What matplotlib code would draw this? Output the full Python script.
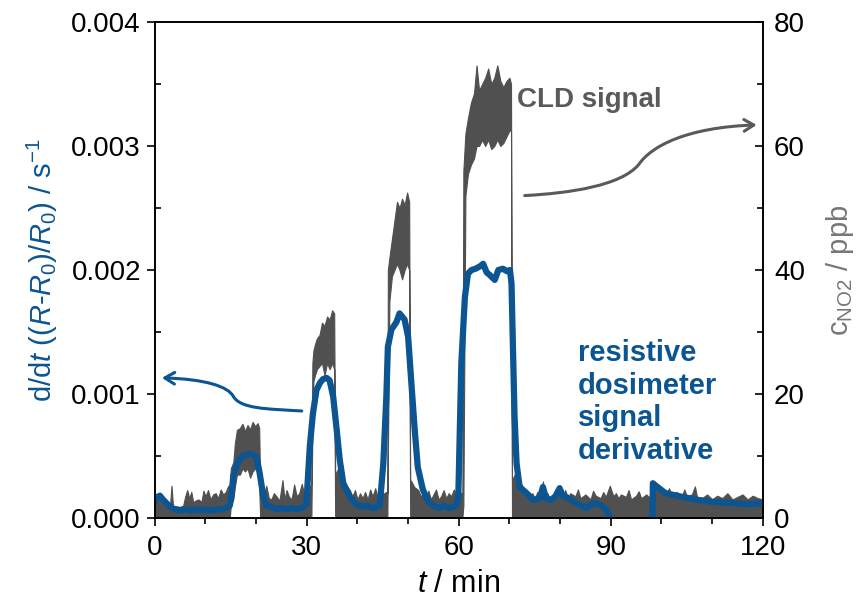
import numpy as np
import matplotlib.pyplot as plt
from matplotlib.path import Path
from matplotlib.patches import FancyArrowPatch
from matplotlib.ticker import MultipleLocator, FormatStrFormatter

plt.rcParams['font.family'] = 'Liberation Sans'
plt.rcParams['mathtext.fontset'] = 'custom'
plt.rcParams['mathtext.rm'] = 'Liberation Sans'
plt.rcParams['mathtext.it'] = 'Liberation Sans:italic'
plt.rcParams['mathtext.bf'] = 'Liberation Sans:bold'

BLUE = '#0b5592'
GRAY = '#505050'

#------------------------------------------------------------------------------
# CLD signal (ppb), read as lower / upper envelope of the noisy trace
cld_t = [0, 0.5, 1.0, 1.5, 2.0, 2.5, 3.0, 3.3, 3.6, 4.0, 5.0, 5.6, 6.0, 6.4,
         6.8, 7.2, 7.6, 8.0, 8.6, 9.2, 9.6, 10.0, 10.5, 11.0, 11.5, 12.0,
         12.5, 13.0, 13.5, 14.0, 14.5,
         14.8, 15.0, 15.5, 15.8, 16.2, 16.8, 17.3, 17.8, 18.3, 18.8, 19.3,
         19.8, 20.3, 20.6, 20.8,
         21.0, 21.5, 22.0, 22.5, 23.0, 23.5, 24.0, 24.6, 25.2, 25.6, 26.0,
         26.5, 27.0, 27.5, 28.0, 28.5, 29.0, 29.5, 30.0, 30.5, 30.9,
         31.1, 31.3, 31.6, 32.0, 32.5, 33.0, 33.5, 34.0, 34.5, 35.0, 35.4,
         35.6, 36.2, 36.8, 37.4, 38.0, 38.5, 39.0, 39.5, 40.0, 40.5, 41.0,
         41.5, 42.0, 42.5, 43.0, 43.5, 44.0, 44.5, 45.0, 45.6,
         45.9, 46.0, 46.3, 46.8, 47.3, 47.8, 48.3, 48.8, 49.3, 49.8, 50.2,
         50.4,
         50.6, 51.2, 52.0, 52.5, 53.0, 53.5, 54.0, 54.5, 55.0, 55.5, 56.0,
         56.5, 57.0, 57.5, 58.0, 58.5, 59.0, 59.5, 60.0, 60.5,
         60.7, 60.9, 61.3, 61.8, 62.4, 63.0, 63.5, 64.0, 64.6, 65.2, 65.8,
         66.4, 67.0, 67.6, 68.2, 68.8, 69.4, 70.0, 70.3, 70.5,
         71.0, 71.5, 72.0, 72.5, 73.0, 73.5, 74.0, 74.5, 75.0, 75.5, 76.0,
         76.6, 77.0, 77.5, 78.0, 78.5, 79.0, 79.9, 80.5, 81.0, 81.5, 82.0,
         83.0, 83.5, 84.0, 85.0, 86.0, 86.5, 87.0, 88.0, 88.5, 89.0, 89.8,
         90.5, 91.0, 91.5, 92.0, 93.0, 93.5, 94.0, 95.0, 95.5, 96.0, 97.0,
         97.5, 98.2, 98.3, 99.0, 100.0, 101.0, 101.5, 102.0, 103.0, 104.0,
         104.5, 105.0, 106.0, 106.6, 107.0, 108.0, 109.0, 110.0, 111.0,
         112.0, 113.0, 114.0, 115.0, 116.0, 117.0, 118.0, 119.0, 120.0]
cld_high = [3.5, 3.8, 3.2, 2.8, 2.5, 2.2, 2.0, 5.2, 1.8, 1.9, 1.8, 2.0, 3.5,
            4.5, 3.2, 4.2, 2.5, 2.8, 3.0, 2.6, 4.4, 3.5, 4.5, 3.0, 3.8, 4.0,
            3.2, 4.6, 3.8, 4.2, 5.2,
            5.0, 8.0, 9.0, 12.0, 14.2, 14.5, 15.2, 14.0, 15.0, 14.3, 15.5,
            14.8, 15.3, 14.5, 5.0,
            4.5, 3.5, 5.2, 3.2, 3.0, 4.0, 3.5, 2.8, 6.1, 3.0, 4.5, 3.4, 3.0,
            5.4, 3.5, 4.0, 5.5, 3.8, 4.5, 5.0, 5.5,
            25.0, 27.0, 28.0, 29.0, 29.5, 31.5, 31.0, 32.5, 32.0, 33.5, 33.0,
            7.0, 8.0, 7.0, 6.0, 5.0, 4.5, 3.5, 4.5, 3.0, 4.0, 3.2, 4.2, 3.0,
            4.6, 3.5, 4.8, 3.2, 4.5, 3.8, 4.2,
            4.0, 40.0, 42.0, 45.0, 48.0, 51.0, 50.0, 51.5, 50.5, 52.5, 51.0,
            6.0,
            6.0, 5.0, 4.5, 3.5, 4.0, 3.2, 4.4, 3.0, 3.8, 4.6, 3.0, 3.5, 4.5,
            3.2, 4.0, 3.5, 4.6, 3.8, 4.2, 4.0,
            4.0, 56.0, 62.0, 64.5, 67.0, 68.5, 73.0, 69.0, 70.0, 71.0, 72.5,
            70.0, 71.0, 73.0, 70.5, 69.5, 70.5, 71.0, 70.0, 6.0,
            7.0, 6.5, 6.0, 5.2, 4.5, 4.0, 3.5, 4.0, 3.2, 4.2, 3.5, 5.9, 3.6,
            4.0, 3.0, 3.8, 3.4, 5.3, 3.5, 4.5, 3.2, 4.0, 3.5, 4.6, 3.2, 3.8,
            3.0, 4.4, 3.6, 3.2, 4.2, 3.4, 5.2, 3.5, 4.0, 3.2, 3.8, 3.4, 4.5,
            3.0, 3.6, 4.3, 3.2, 3.8, 3.4, 3.6, 5.8, 5.0, 4.4, 4.0, 4.8, 3.6,
            4.2, 3.4, 4.6, 3.5, 3.8, 5.1, 3.4, 3.2, 3.8, 3.0, 3.6, 3.2, 4.0,
            3.0, 3.4, 3.8, 3.0, 3.6, 3.2, 3.0]
# lower envelope: zero on the baseline, raised only inside the four pulses
peak1_low = [0.0, 2.0, 3.0, 5.0, 7.0, 7.0, 8.0, 7.5, 8.0, 6.5, 7.5, 8.0,
             7.5, 5.0, 0.0]
peak2_low = [14.0, 22.0, 23.0, 24.0, 24.5, 25.0, 23.0, 25.0, 24.0, 25.0,
             24.0]
peak3_low = [0.0, 10.0, 35.0, 39.0, 40.0, 41.0, 40.0, 38.5, 40.0, 41.0,
             40.0, 0.0]
peak4_low = [0.0, 2.0, 52.0, 55.5, 57.0, 58.0, 60.0, 60.0, 61.0, 60.0,
             61.0, 59.5, 60.0, 61.0, 60.0, 60.5, 61.5, 62.5, 62.5, 0.0]
cld_low = ([0.0] * 31 + peak1_low + [0.0] * 21 + peak2_low + [0.0] * 20 +
           peak3_low + [0.0] * 20 + peak4_low)
cld_low += [0.0] * (len(cld_t) - len(cld_low))

# resistive dosimeter signal derivative (s^-1)
dos_t = [0, 0.5, 1.0, 1.6, 2.3, 3.0, 4.0, 5.0, 6.0, 7.0, 8.0, 9.0, 10.0,
         11.0, 12.0, 13.0, 14.0, 14.8, 15.1, 15.5, 16.1, 16.8, 17.5, 18.2,
         18.8, 19.4, 20.1, 20.7, 21.4, 22.0, 23.0, 24.0, 25.0, 26.0, 27.0,
         28.0, 29.0, 29.9, 30.6, 31.2, 31.9, 32.6, 33.2, 33.9, 34.5, 35.2,
         35.9, 36.5, 37.2, 38.5, 39.8, 41.0, 42.0, 43.0, 44.4, 45.1, 45.7,
         46.0, 46.7, 47.7, 48.3, 49.3, 50.0, 50.6, 51.3, 51.9, 52.9, 54.0,
         55.0, 56.0, 57.0, 58.0, 59.5, 59.9, 60.5, 61.2, 61.8, 62.5, 63.3,
         64.2, 64.8, 65.5, 66.1, 67.1, 67.8, 68.7, 69.5, 70.1, 70.4, 70.7,
         71.0, 71.4, 72.0, 73.4, 74.7, 76.0, 76.6, 77.2, 78.0, 79.0, 79.9,
         80.5, 81.2, 83.2, 85.2, 86.5, 87.8, 89.1, 89.8, 94.0, 98.2, 98.3,
         98.9, 100.8, 104.1, 107.4, 110.0, 114.0, 117.0, 120.0]
dos_v = [0.00014, 0.00017, 0.00018, 0.00015, 0.00012, 0.00009, 0.00007,
         0.00006, 0.00007, 0.00006, 0.00007, 0.00006, 0.00007, 0.00006,
         0.00007, 0.00007, 0.00008, 0.0001, 0.00018, 0.00034, 0.00042,
         0.00048, 0.00050, 0.00051, 0.00052, 0.00051, 0.00049, 0.00036,
         0.00018, 0.00010, 0.00009, 0.00007, 0.00008, 0.00007, 0.00008,
         0.00007, 0.00008, 0.00011, 0.00058, 0.00084, 0.00103, 0.00109,
         0.00112, 0.00113, 0.00111, 0.00098, 0.00071, 0.00047, 0.00028,
         0.00017, 0.00011, 0.00009, 0.0001, 0.00008, 0.0001, 0.00044,
         0.00098, 0.00138, 0.00152, 0.00158, 0.00165, 0.00160, 0.00146,
         0.00111, 0.00071, 0.00041, 0.00023, 0.00013, 0.0001, 0.00008,
         0.0001, 0.00008, 0.0001, 0.00017, 0.00125, 0.00178, 0.00197,
         0.00200, 0.00201, 0.00203, 0.00205, 0.00198, 0.00196, 0.00192,
         0.00200, 0.00201, 0.00199, 0.00200, 0.00189, 0.00135, 0.00082,
         0.00044, 0.00025, 0.00020, 0.000145, 0.00016, 0.00025, 0.00016,
         0.000145, 0.00017, 0.00024, 0.00018, 0.00017, 0.00012, 0.00008,
         0.00012, 0.00011, 0.00007, 0.0, np.nan, 0.0, 0.00028, 0.00026,
         0.0002, 0.00017, 0.000145, 0.00013, 0.00012, 0.00011, 0.00012]

#------------------------------------------------------------------------------
fig = plt.figure(figsize=(8.6, 6.04), dpi=100)
ax1 = fig.add_axes([0.180, 0.1424, 0.707, 0.8212])
ax2 = ax1.twinx()

# CLD (right axis)
ax2.fill_between(cld_t, cld_low, cld_high, facecolor=GRAY,
                 edgecolor=GRAY, lw=0.8)
ax2.set_ylim(0, 80)

# Dosimeter (left axis), drawn on top
ax1.set_zorder(ax2.get_zorder() + 1)
ax1.patch.set_visible(False)
ax1.plot(dos_t, dos_v, color=BLUE, lw=4.5, solid_joinstyle='round',
         solid_capstyle='round')
ax1.set_xlim(0, 120)
ax1.set_ylim(0, 0.004)

# Ticks
ax1.xaxis.set_major_locator(MultipleLocator(30))
ax1.xaxis.set_minor_locator(MultipleLocator(10))
ax1.yaxis.set_major_locator(MultipleLocator(0.001))
ax1.yaxis.set_minor_locator(MultipleLocator(0.0005))
ax1.yaxis.set_major_formatter(FormatStrFormatter('%.3f'))
ax2.yaxis.set_major_locator(MultipleLocator(20))
ax2.yaxis.set_minor_locator(MultipleLocator(10))

ax1.tick_params(axis='x', which='major', direction='out', length=6,
                width=1.2, labelsize=20, pad=6, top=False)
ax1.tick_params(axis='x', which='minor', direction='out', length=4,
                width=1.2, top=False)
ax1.tick_params(axis='y', which='major', direction='out', length=6,
                width=1.2, labelsize=20, pad=4)
ax1.tick_params(axis='y', which='minor', direction='in', length=4, width=1.2)
ax2.tick_params(axis='y', which='major', direction='in', length=6,
                width=1.2, labelsize=20, pad=8)
ax2.tick_params(axis='y', which='minor', direction='in', length=4, width=1.2)

for ax in (ax1, ax2):
    for sp in ax.spines.values():
        sp.set_linewidth(1.2)

# Labels
ax1.set_xlabel(r'$\mathit{t}$ / min', fontsize=22, labelpad=6)
ax1.set_ylabel(r'd/d$\mathit{t}$ (($\mathit{R}$-$\mathit{R}_0$)/$\mathit{R}_0$) / s$^{-1}$',
               color=BLUE, fontsize=21, labelpad=8)
ax2.set_ylabel(r'c$_{\mathrm{NO2}}$ / ppb', color='#777777', fontsize=21,
               labelpad=14)

# Annotations
ax1.text(71.4, 0.00337, 'CLD signal', color='#5a5a5a', fontsize=20,
         fontweight='bold', va='center', ha='left')
ax1.text(83.5, 0.000935, 'resistive\ndosimeter\nsignal\nderivative',
         color=BLUE, fontsize=21, fontweight='bold', va='center', ha='left',
         linespacing=1.2)

codes = [Path.MOVETO] + [Path.CURVE4] * 6
blue_path = Path([(29.0, 0.000863), (22.0, 0.00088), (17.0, 0.00088),
                  (15.5, 0.00098), (14.5, 0.00106), (10.0, 0.00112),
                  (1.4, 0.00113)], codes)
gray_path = Path([(73.0, 0.0026), (82.0, 0.00262), (92.0, 0.00268),
                  (95.5, 0.00285), (98.0, 0.00300), (105.0, 0.00315),
                  (118.8, 0.00317)], codes)
ax1.add_patch(FancyArrowPatch(path=blue_path, arrowstyle='->,head_length=0.5,head_width=0.3',
                              mutation_scale=14, color=BLUE, lw=2.2))
ax1.add_patch(FancyArrowPatch(path=gray_path, arrowstyle='->,head_length=0.5,head_width=0.3',
                              mutation_scale=14, color='#5a5a5a', lw=2.2))

fig.savefig('out.png', dpi=100)
